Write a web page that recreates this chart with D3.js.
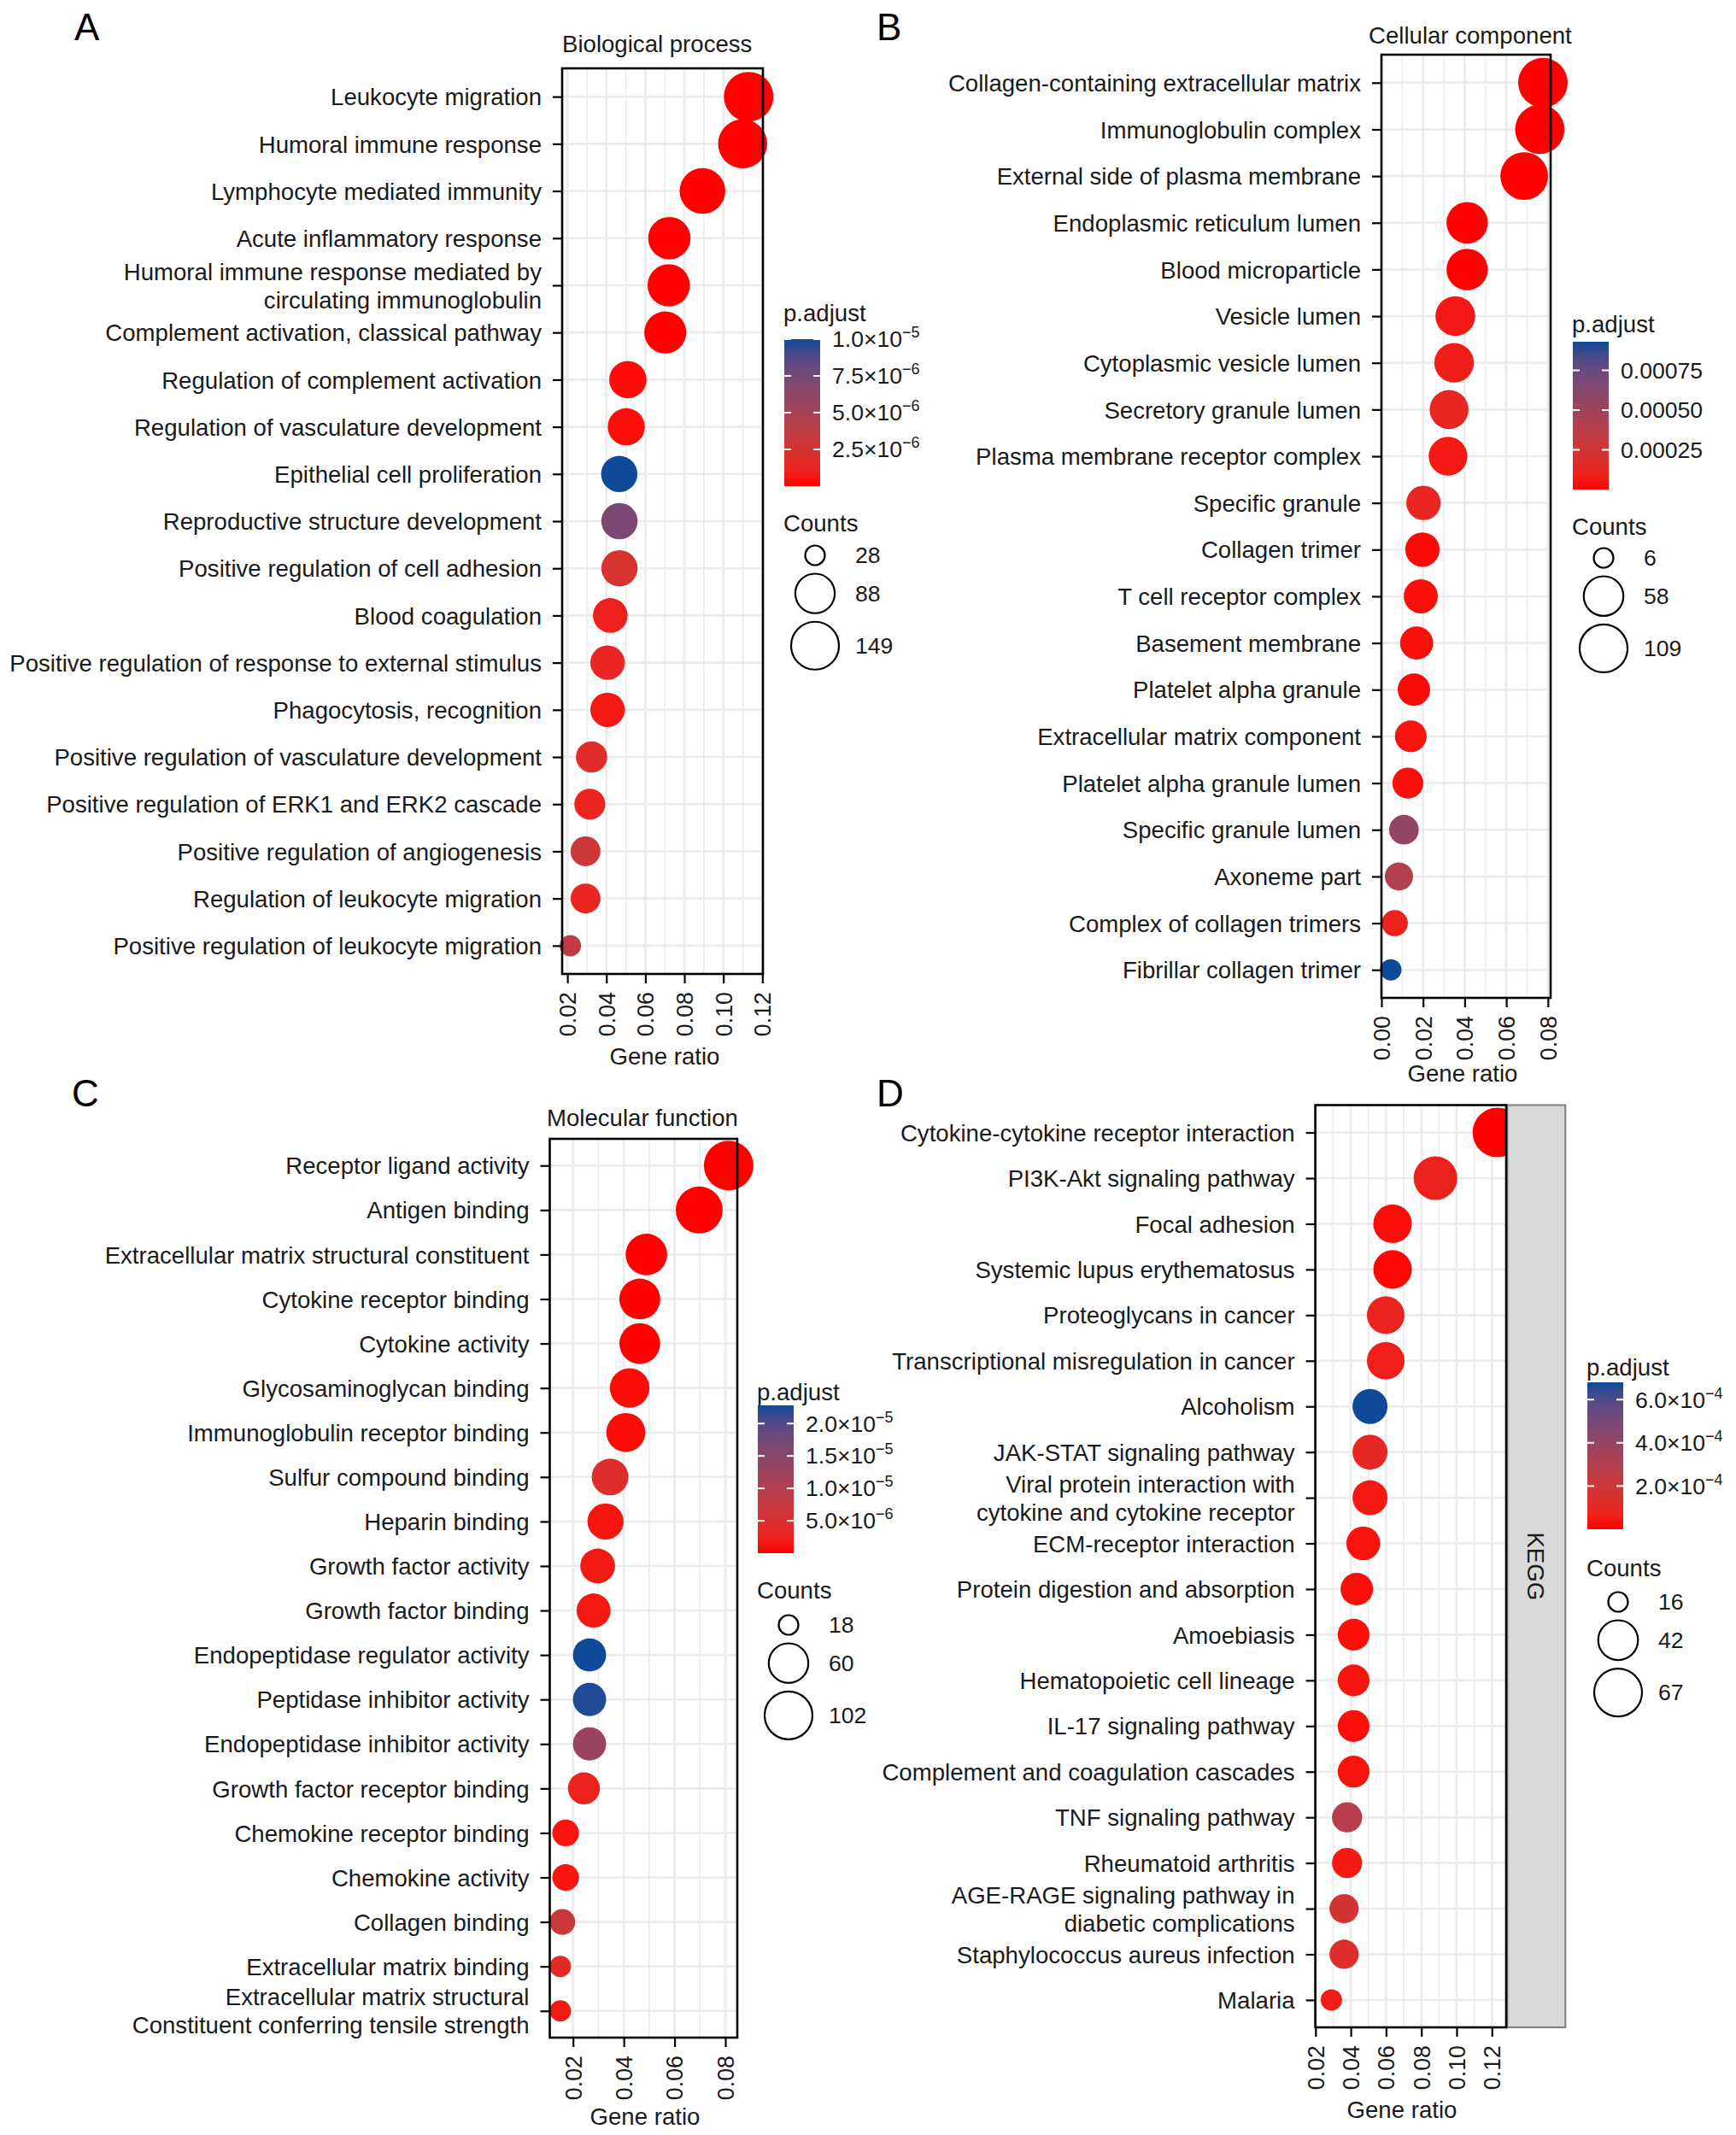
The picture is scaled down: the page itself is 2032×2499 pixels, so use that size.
<!DOCTYPE html>
<html>
<head>
<meta charset="utf-8">
<script src="https://cdn.jsdelivr.net/npm/d3@7"></script>
<style>
  body { margin: 0; background: #fff; }
  svg { display: block; }
  text { font-family: 'Liberation Sans', Arial, Helvetica, sans-serif; }
</style>
</head>
<body>
<script>
const W = 2032, H = 2499;

// ---- A: Biological process ----
const bpTerms = ["Leukocyte migration", "Humoral immune response", "Lymphocyte mediated immunity",
  "Acute inflammatory response", "Humoral immune response mediated by\ncirculating immunoglobulin",
  "Complement activation, classical pathway", "Regulation of complement activation",
  "Regulation of vasculature development", "Epithelial cell proliferation",
  "Reproductive structure development", "Positive regulation of cell adhesion", "Blood coagulation",
  "Positive regulation of response to external stimulus", "Phagocytosis, recognition",
  "Positive regulation of vasculature development", "Positive regulation of ERK1 and ERK2 cascade",
  "Positive regulation of angiogenesis", "Regulation of leukocyte migration",
  "Positive regulation of leukocyte migration"];
const bpRatio = [0.1130, 0.1099, 0.0893, 0.0723, 0.0720, 0.0702, 0.0510, 0.0502, 0.0466, 0.0467,
  0.0467, 0.0420, 0.0406, 0.0406, 0.0324, 0.0315, 0.0293, 0.0293, 0.0215];
const bpCount = [149, 145, 118, 95, 95, 93, 67, 66, 62, 62, 62, 55, 54, 54, 43, 42, 39, 39, 28];
const bpPadj = [1e-9, 1e-9, 2e-9, 1e-8, 1e-8, 1e-8, 2e-7, 3e-7, 1.0e-5, 7.2e-6, 2.3e-6, 1.0e-6,
  1.3e-6, 6e-7, 1.8e-6, 1.2e-6, 2.9e-6, 1.3e-6, 3.6e-6];
const bpTicks = [0.02, 0.04, 0.06, 0.08, 0.10, 0.12];
const bpColorTicks = [2.5e-6, 5.0e-6, 7.5e-6, 1.0e-5];
const bpSizeBreaks = [28, 88, 149];

// ---- B: Cellular component ----
const ccTerms = ["Collagen-containing extracellular matrix", "Immunoglobulin complex",
  "External side of plasma membrane", "Endoplasmic reticulum lumen", "Blood microparticle",
  "Vesicle lumen", "Cytoplasmic vesicle lumen", "Secretory granule lumen",
  "Plasma membrane receptor complex", "Specific granule", "Collagen trimer", "T cell receptor complex",
  "Basement membrane", "Platelet alpha granule", "Extracellular matrix component",
  "Platelet alpha granule lumen", "Specific granule lumen", "Axoneme part",
  "Complex of collagen trimers", "Fibrillar collagen trimer"];
const ccRatio = [0.0776, 0.0761, 0.0686, 0.0412, 0.0412, 0.0355, 0.0349, 0.0325, 0.0320, 0.0202,
  0.0197, 0.0189, 0.0169, 0.0156, 0.0141, 0.0127, 0.0108, 0.0084, 0.0064, 0.0045];
const ccCount = [109, 107, 96, 58, 58, 50, 49, 46, 45, 28, 28, 27, 24, 22, 20, 18, 15, 12, 9, 6];
const ccPadj = [1e-7, 1e-7, 2e-7, 2e-6, 3e-6, 6e-5, 8e-5, 1.3e-4, 6e-5, 1.2e-4, 2e-5, 3e-5, 3e-5,
  2e-5, 4e-5, 3e-5, 5.6e-4, 4.0e-4, 1.0e-4, 9.3e-4];
const ccTicks = [0.00, 0.02, 0.04, 0.06, 0.08];
const ccColorTicks = [0.00025, 0.00050, 0.00075];
const ccSizeBreaks = [6, 58, 109];

// ---- C: Molecular function ----
const mfTerms = ["Receptor ligand activity", "Antigen binding", "Extracellular matrix structural constituent",
  "Cytokine receptor binding", "Cytokine activity", "Glycosaminoglycan binding",
  "Immunoglobulin receptor binding", "Sulfur compound binding", "Heparin binding",
  "Growth factor activity", "Growth factor binding", "Endopeptidase regulator activity",
  "Peptidase inhibitor activity", "Endopeptidase inhibitor activity", "Growth factor receptor binding",
  "Chemokine receptor binding", "Chemokine activity", "Collagen binding", "Extracellular matrix binding",
  "Extracellular matrix structural\nConstituent conferring tensile strength"];
const mfRatio = [0.0813, 0.0697, 0.0489, 0.0463, 0.0463, 0.0423, 0.0408, 0.0346, 0.0328, 0.0297,
  0.0281, 0.0265, 0.0265, 0.0265, 0.0243, 0.0171, 0.0171, 0.0158, 0.0150, 0.0150];
const mfCount = [102, 87, 61, 58, 58, 53, 51, 43, 41, 37, 35, 33, 33, 33, 30, 21, 21, 20, 18, 18];
const mfPadj = [1e-9, 1e-8, 5e-8, 1e-7, 1e-7, 5e-7, 5e-7, 4.5e-6, 1.2e-6, 1.5e-6, 1.5e-6, 2.28e-5,
  2.24e-5, 1.3e-5, 2.5e-6, 1e-6, 1e-6, 7e-6, 3.5e-6, 1.5e-6];
const mfTicks = [0.02, 0.04, 0.06, 0.08];
const mfColorTicks = [5.0e-6, 1.0e-5, 1.5e-5, 2.0e-5];
const mfSizeBreaks = [18, 60, 102];

// ---- D: KEGG ----
const kgTerms = ["Cytokine-cytokine receptor interaction", "PI3K-Akt signaling pathway", "Focal adhesion",
  "Systemic lupus erythematosus", "Proteoglycans in cancer", "Transcriptional misregulation in cancer",
  "Alcoholism", "JAK-STAT signaling pathway", "Viral protein interaction with\ncytokine and cytokine receptor",
  "ECM-receptor interaction", "Protein digestion and absorption", "Amoebiasis",
  "Hematopoietic cell lineage", "IL-17 signaling pathway", "Complement and coagulation cascades",
  "TNF signaling pathway", "Rheumatoid arthritis", "AGE-RAGE signaling pathway in\ndiabetic complications",
  "Staphylococcus aureus infection", "Malaria"];
const kgRatio = [0.1231, 0.0880, 0.0637, 0.0637, 0.0598, 0.0598, 0.0509, 0.0509, 0.0509, 0.0471,
  0.0434, 0.0416, 0.0416, 0.0416, 0.0416, 0.0379, 0.0379, 0.0362, 0.0362, 0.0290];
const kgCount = [67, 48, 35, 35, 33, 33, 28, 28, 28, 26, 24, 23, 23, 23, 23, 21, 21, 20, 20, 16];
const kgPadj = [1e-10, 7e-5, 2e-5, 1e-5, 8e-5, 6e-5, 6.8e-4, 1e-4, 4e-5, 3e-5, 2e-5, 2e-5, 3e-5,
  2e-5, 3e-5, 2.8e-4, 4e-5, 1.7e-4, 1.3e-4, 5e-5];
const kgTicks = [0.02, 0.04, 0.06, 0.08, 0.10, 0.12];
const kgColorTicks = [2.0e-4, 4.0e-4, 6.0e-4];
const kgSizeBreaks = [16, 42, 67];

const LOW = "#ff0000", HIGH = "#0f4a98";
const TXT = "#1a1a1a";
const FS = 27.6;

const panels = [
  { tag: "A", tagX: 87, tagY: 47, title: "Biological process", titleX: 658, titleY: 61,
    terms: bpTerms, ratio: bpRatio, count: bpCount, padj: bpPadj, xTicks: bpTicks,
    box: [658, 80, 893, 1140], xDomain: [0.0173, 0.1203], xlab: [778, 1246],
    cTicks: bpColorTicks, sci: true, sBreaks: bpSizeBreaks,
    leg: { x: 917, pY: 376, barTop: 397, barBot: 569, cY: 622, c0: 650 } },
  { tag: "B", tagX: 1026, tagY: 47, title: "Cellular component", titleX: 1602, titleY: 51,
    terms: ccTerms, ratio: ccRatio, count: ccCount, padj: ccPadj, xTicks: ccTicks,
    box: [1617, 64, 1815, 1168], xDomain: [0.0, 0.0813], xlab: [1712, 1266],
    cTicks: ccColorTicks, sci: false, sBreaks: ccSizeBreaks,
    leg: { x: 1840, pY: 389, barTop: 400, barBot: 573, cY: 626, c0: 653 } },
  { tag: "C", tagX: 84, tagY: 1295, title: "Molecular function", titleX: 640, titleY: 1318,
    terms: mfTerms, ratio: mfRatio, count: mfCount, padj: mfPadj, xTicks: mfTicks,
    box: [643.5, 1333, 863, 2385], xDomain: [0.01084, 0.0847], xlab: [755, 2487],
    cTicks: mfColorTicks, sci: true, sBreaks: mfSizeBreaks,
    leg: { x: 886, pY: 1639, barTop: 1645, barBot: 1818, cY: 1871, c0: 1902 } },
  { tag: "D", tagX: 1026, tagY: 1295, title: null,
    terms: kgTerms, ratio: kgRatio, count: kgCount, padj: kgPadj, xTicks: kgTicks,
    box: [1539.6, 1293.5, 1763, 2373], xDomain: [0.0199, 0.1281], xlab: [1641, 2479],
    cTicks: kgColorTicks, sci: true, sBreaks: kgSizeBreaks, strip: "KEGG",
    leg: { x: 1857, pY: 1610, barTop: 1618, barBot: 1790, cY: 1845, c0: 1875 } }
];

const svg = d3.select("body").append("svg")
  .attr("width", W).attr("height", H)
  .attr("viewBox", `0 0 ${W} ${H}`);

const defs = svg.append("defs");

// write a value like 1.0x10^-5 with a real superscript
function sciLabel(sel, v, sci) {
  if (!sci) { sel.text(d3.format(".5f")(v)); return; }
  const e = Math.floor(Math.log10(v));
  const m = v / Math.pow(10, e);
  sel.append("tspan").text(d3.format(".1f")(m) + "\u00d710");
  sel.append("tspan").attr("dy", -11).attr("font-size", 18).text("\u2212" + Math.abs(e));
}

panels.forEach((p, pi) => {
  const [x0, y0, x1, y1] = p.box;
  const g = svg.append("g");

  const x = d3.scaleLinear().domain(p.xDomain).range([x0, x1]);
  const y = d3.scalePoint().domain(p.terms).range([y0, y1]).padding(0.6);

  const color = d3.scaleLinear()
    .domain(d3.extent(p.padj))
    .range([LOW, HIGH])
    .interpolate(d3.interpolateLab);

  const rescale = d3.scaleLinear().domain(d3.extent(p.count)).range([0, 1]);
  const rad = d3.scaleLinear().domain([0, 1]).range([12.5, 29]);
  const radius = c => rad(Math.sqrt(Math.max(0, rescale(c))));

  // panel letter and title
  g.append("text").attr("x", p.tagX).attr("y", p.tagY)
    .attr("font-size", 44).attr("fill", "#000").text(p.tag);
  if (p.title) {
    g.append("text").attr("x", p.titleX).attr("y", p.titleY)
      .attr("font-size", FS).attr("fill", TXT).text(p.title);
  }

  // grid
  const step = p.xTicks[1] - p.xTicks[0];
  const minor = [];
  for (let i = -1; i < p.xTicks.length; i++) {
    const v = p.xTicks[0] + (i + 0.5) * step;
    if (v > p.xDomain[0] && v < p.xDomain[1]) minor.push(v);
  }
  const grid = g.append("g").attr("stroke", "#ebebeb");
  grid.selectAll("line.minor").data(minor).join("line")
    .attr("x1", d => x(d)).attr("x2", d => x(d)).attr("y1", y0).attr("y2", y1)
    .attr("stroke-width", 1.6);
  grid.selectAll("line.major").data(p.xTicks).join("line")
    .attr("x1", d => x(d)).attr("x2", d => x(d)).attr("y1", y0).attr("y2", y1)
    .attr("stroke-width", 2.6);
  grid.selectAll("line.h").data(p.terms).join("line")
    .attr("x1", x0).attr("x2", x1).attr("y1", d => y(d)).attr("y2", d => y(d))
    .attr("stroke-width", 2.6);

  // bubbles
  const rows = p.terms.map((t, i) => ({ term: t, ratio: p.ratio[i], count: p.count[i], padj: p.padj[i] }));
  g.append("g").selectAll("circle").data(rows).join("circle")
    .attr("cx", d => x(d.ratio)).attr("cy", d => y(d.term))
    .attr("r", d => radius(d.count))
    .attr("fill", d => color(d.padj));

  // facet strip for KEGG (drawn over the bubbles, like the facet strip)
  if (p.strip) {
    g.append("rect").attr("x", x1 + 1.3).attr("y", y0).attr("width", 68).attr("height", y1 - y0)
      .attr("fill", "#d9d9d9").attr("stroke", "#7f7f7f").attr("stroke-width", 2);
    g.append("text")
      .attr("transform", `translate(${x1 + 35},${(y0 + y1) / 2}) rotate(90)`)
      .attr("text-anchor", "middle").attr("dy", "0.35em")
      .attr("font-size", FS).attr("fill", TXT).text(p.strip);
  }

  // panel border
  g.append("rect").attr("x", x0).attr("y", y0).attr("width", x1 - x0).attr("height", y1 - y0)
    .attr("fill", "none").attr("stroke", "#000").attr("stroke-width", 2.6);

  // y axis
  const yAxis = g.append("g")
    .attr("transform", `translate(${x0},0)`)
    .call(d3.axisLeft(y).tickSize(11).tickPadding(13))
    .attr("font-size", FS).attr("font-family", null).attr("color", TXT);
  yAxis.select(".domain").remove();
  yAxis.selectAll(".tick line").attr("stroke", "#000").attr("stroke-width", 2.2);
  yAxis.selectAll(".tick text").each(function (d) {
    const lines = d.split("\n");
    const t = d3.select(this);
    const tx = t.attr("x");
    t.text(null).attr("dy", null);
    lines.forEach((ln, i) => {
      t.append("tspan").attr("x", tx)
        .attr("dy", i === 0 ? `${0.35 - (lines.length - 1) * 0.6}em` : "1.2em")
        .text(ln);
    });
  });

  // x axis
  const xAxis = g.append("g")
    .attr("transform", `translate(0,${y1})`)
    .call(d3.axisBottom(x).tickValues(p.xTicks).tickSize(11).tickFormat(d3.format(".2f")))
    .attr("font-size", FS - 0.8).attr("font-family", null).attr("color", TXT);
  xAxis.select(".domain").remove();
  xAxis.selectAll(".tick line").attr("stroke", "#000").attr("stroke-width", 2.2);
  xAxis.selectAll(".tick text")
    .attr("transform", "rotate(-90)")
    .attr("text-anchor", "end")
    .attr("x", -21).attr("y", 0).attr("dy", "0.35em");

  g.append("text").attr("x", p.xlab[0]).attr("y", p.xlab[1])
    .attr("text-anchor", "middle").attr("font-size", FS).attr("fill", TXT).text("Gene ratio");

  // colour legend
  const L = p.leg;
  g.append("text").attr("x", L.x).attr("y", L.pY).attr("font-size", FS).attr("fill", TXT).text("p.adjust");
  const gid = "grad" + pi;
  const cd = color.domain();
  const grad = defs.append("linearGradient").attr("id", gid)
    .attr("x1", 0).attr("y1", 1).attr("x2", 0).attr("y2", 0);
  d3.range(0, 1.0001, 0.1).forEach(t => {
    grad.append("stop").attr("offset", t).attr("stop-color", color(cd[0] + t * (cd[1] - cd[0])));
  });
  const barX = L.x + 1, barW = 42;
  g.append("rect").attr("x", barX).attr("y", L.barTop).attr("width", barW)
    .attr("height", L.barBot - L.barTop).attr("fill", `url(#${gid})`);
  const cy = d3.scaleLinear().domain(cd).range([L.barBot, L.barTop]);
  const ct = g.append("g").selectAll("g").data(p.cTicks).join("g")
    .attr("transform", d => `translate(0,${cy(d)})`);
  ct.append("line").attr("x1", barX).attr("x2", barX + 8).attr("stroke", "#fff").attr("stroke-width", 2);
  ct.append("line").attr("x1", barX + barW - 8).attr("x2", barX + barW).attr("stroke", "#fff").attr("stroke-width", 2);
  ct.append("text").attr("x", barX + barW + 14).attr("dy", "0.35em")
    .attr("font-size", FS - 1).attr("fill", TXT)
    .each(function (d) { sciLabel(d3.select(this), d, p.sci); });

  // size legend
  g.append("text").attr("x", L.x).attr("y", L.cY).attr("font-size", FS).attr("fill", TXT).text("Counts");
  const br = p.sBreaks.map(radius);
  const keyY = [L.c0];
  for (let i = 1; i < br.length; i++) keyY.push(keyY[i - 1] + br[i - 1] + br[i] + 8);
  const sk = g.append("g").selectAll("g").data(p.sBreaks).join("g")
    .attr("transform", (d, i) => `translate(${L.x + 37},${keyY[i]})`);
  sk.append("circle").attr("r", d => radius(d) - 1)
    .attr("fill", "none").attr("stroke", "#000").attr("stroke-width", 2.2);
  sk.append("text").attr("x", 47).attr("dy", "0.35em")
    .attr("font-size", FS - 1).attr("fill", TXT).text(d => d);
});
</script>
</body>
</html>
